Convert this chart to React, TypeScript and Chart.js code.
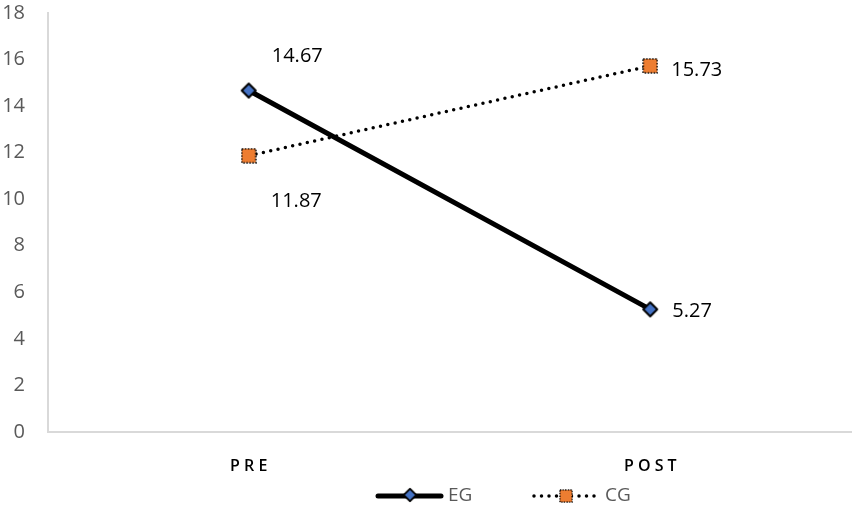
import React, { useEffect, useRef } from "react";
import { Chart, registerables } from "chart.js";

Chart.register(...registerables);

const categories = ["PRE", "POST"];
const egValues = [14.67, 5.27];
const cgValues = [11.87, 15.73];
const seriesNames = ["EG", "CG"];
const yTicks = [0, 2, 4, 6, 8, 10, 12, 14, 16, 18];

const FONT = "'Open Sans', 'Noto Sans', sans-serif";
const CANVAS_W = 864;

function makeSquare(): HTMLCanvasElement {
  const c = document.createElement("canvas");
  c.width = 16;
  c.height = 16;
  const ctx = c.getContext("2d")!;
  ctx.fillStyle = "#ED7D31";
  ctx.fillRect(1, 1, 14, 14);
  ctx.strokeStyle = "#000";
  ctx.lineWidth = 1.5;
  ctx.setLineDash([1.5, 1.5]);
  ctx.strokeRect(1, 1, 14, 14);
  return c;
}

function makeDiamond(): HTMLCanvasElement {
  const c = document.createElement("canvas");
  c.width = 18;
  c.height = 18;
  const ctx = c.getContext("2d")!;
  ctx.beginPath();
  ctx.moveTo(9, 2);
  ctx.lineTo(16, 9);
  ctx.lineTo(9, 16);
  ctx.lineTo(2, 9);
  ctx.closePath();
  ctx.fillStyle = "#4472C4";
  ctx.fill();
  ctx.strokeStyle = "#000";
  ctx.lineWidth = 2;
  ctx.lineJoin = "round";
  ctx.stroke();
  return c;
}

export default function App() {
  const ref = useRef<HTMLCanvasElement | null>(null);

  useEffect(() => {
    if (!ref.current) return;
    const square = makeSquare();
    const diamond = makeDiamond();

    const labelOffsets = [
      [
        [23, -34],
        [22, 2],
      ],
      [
        [22, 46],
        [21, 4],
      ],
    ];

    const labelsPlugin = {
      id: "valueLabels",
      afterDatasetsDraw(chart: any) {
        const ctx = chart.ctx;
        ctx.save();
        ctx.font = `20px ${FONT}`;
        ctx.fillStyle = "#000";
        ctx.textAlign = "left";
        ctx.textBaseline = "middle";
        chart.data.datasets.forEach((ds: any, di: number) => {
          const meta = chart.getDatasetMeta(di);
          meta.data.forEach((pt: any, i: number) => {
            const [dx, dy] = labelOffsets[di][i];
            ctx.fillText(ds.data[i].toFixed(2), pt.x + dx, pt.y + dy);
          });
        });
        ctx.restore();
      },
      afterDraw(chart: any) {
        const ctx = chart.ctx;
        ctx.save();
        const y = 496;
        ctx.strokeStyle = "#000";
        ctx.lineWidth = 5;
        ctx.lineCap = "round";
        ctx.beginPath();
        ctx.moveTo(378, y);
        ctx.lineTo(441, y);
        ctx.stroke();
        ctx.drawImage(diamond, 410 - 8, y - 9, 16, 16);
        ctx.lineWidth = 3.5;
        ctx.setLineDash([0, 7.5]);
        ctx.beginPath();
        ctx.moveTo(534, y);
        ctx.lineTo(600, y);
        ctx.stroke();
        ctx.setLineDash([]);
        ctx.drawImage(square, 566 - 7, y - 7, 14, 14);
        ctx.font = `19px ${FONT}`;
        ctx.fillStyle = "#595959";
        ctx.textBaseline = "middle";
        ctx.textAlign = "left";
        ctx.fillText(seriesNames[0], 448, y);
        ctx.fillText(seriesNames[1], 605, y);
        ctx.restore();
      },
    };

    const chart = new Chart(ref.current, {
      type: "line",
      data: {
        labels: categories,
        datasets: [
          {
            label: seriesNames[0],
            data: egValues,
            borderColor: "#000",
            borderWidth: 5,
            borderCapStyle: "round",
            pointStyle: diamond as any,
            pointRadius: 8,
            pointHoverRadius: 8,
            tension: 0,
          },
          {
            label: seriesNames[1],
            data: cgValues,
            borderColor: "#000",
            borderWidth: 3.5,
            borderCapStyle: "round",
            borderDash: [0, 7.5],
            pointStyle: square as any,
            pointRadius: 8,
            pointHoverRadius: 8,
            tension: 0,
          },
        ],
      },
      options: {
        animation: false,
        responsive: false,
        maintainAspectRatio: false,
        events: [],
        layout: { padding: { top: 12, right: 4, left: 0, bottom: 0 } },
        plugins: {
          legend: { display: false },
          tooltip: { enabled: false },
        },
        scales: {
          x: {
            offset: true,
            grid: { color: "rgba(0,0,0,0)", drawTicks: false },
            border: { display: true, color: "#d9d9d9", width: 2 },
            ticks: {
              color: "#000",
              padding: 25,
              font: { family: FONT, size: 16, weight: "600" },
              callback: (_v: any, i: number) => categories[i].split("").join(" "),
            },
            afterFit: (s: any) => {
              s.height = 80;
              s.paddingLeft = 0;
              s.paddingRight = 0;
            },
          },
          y: {
            min: 0,
            max: 18,
            afterBuildTicks: (s: any) => {
              s.ticks = yTicks.map((v) => ({ value: v }));
            },
            grid: { color: "rgba(0,0,0,0)", drawTicks: false },
            border: { display: true, color: "#d9d9d9", width: 2 },
            ticks: {
              color: "#595959",
              padding: 23,
              font: { family: FONT, size: 20 },
            },
            afterFit: (s: any) => {
              s.width = 48;
              s.paddingTop = 0;
              s.paddingBottom = 0;
            },
          },
        },
      },
      plugins: [labelsPlugin],
    } as any);

    return () => chart.destroy();
  }, []);

  return (
    <div style={{ position: "fixed", left: 0, top: 0, width: 854, height: 512, overflow: "hidden", background: "#fff" }}>
      <canvas ref={ref} width={CANVAS_W} height={512} style={{ width: CANVAS_W, height: 512, display: "block" }} />
    </div>
  );
}
